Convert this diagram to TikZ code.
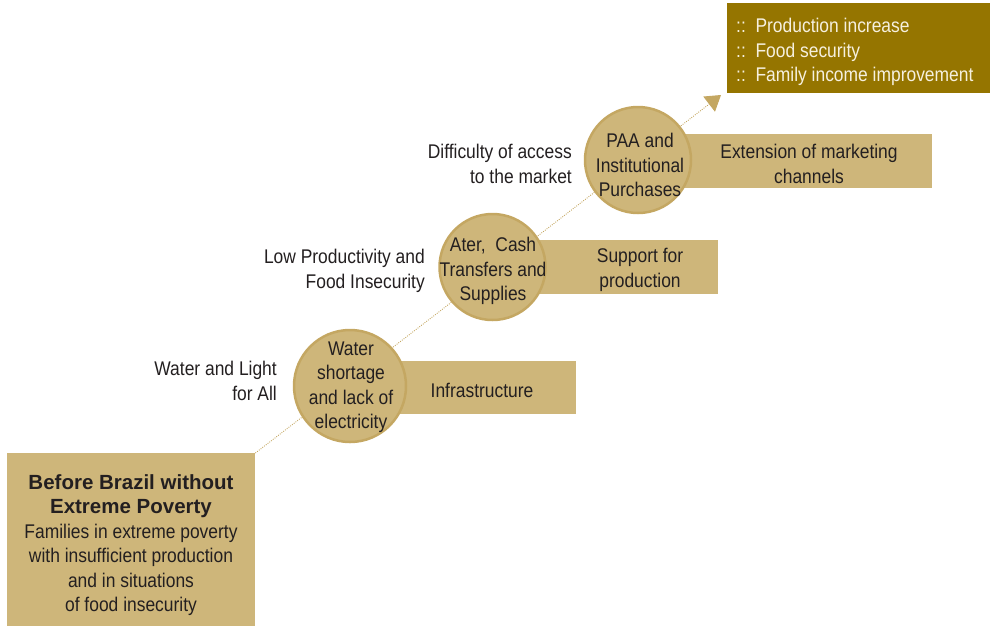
\documentclass[tikz,border=0pt]{standalone}
\usepackage{fontspec}
\setmainfont[FakeStretch=0.88]{Liberation Sans}
\newfontfamily\titlefont[FakeStretch=1.0]{Liberation Sans}
\usetikzlibrary{arrows.meta}
\definecolor{tan}{HTML}{CEB67A}
\definecolor{tanedge}{HTML}{C4A762}
\definecolor{olive}{HTML}{957500}
\definecolor{ink}{HTML}{231F20}
\definecolor{cream}{HTML}{F6F0DF}
\tikzset{
  txt/.style={font=\fontsize{19.8}{24.5}\selectfont, text=ink, align=center, inner sep=0},
  lbl/.style={txt, align=right, anchor=east},
  bar/.style={fill=tan, draw=none, anchor=north west, inner sep=0},
  disc/.style={circle, fill=tan, draw=tanedge, line width=2.5pt, inner sep=0},
  dotline/.style={tanedge, line width=0.9pt, dash pattern=on 0.9pt off 1.3pt}
}
\begin{document}
\begin{tikzpicture}[x=1pt,y=-1pt]
\useasboundingbox (0,0) rectangle (990,625);
% base box
\node[fill=tan, anchor=north west, minimum width=248pt, minimum height=175pt, inner sep=0] (base) at (7,453) {};
\node[txt] (basetext) at (131,545) {{\titlefont\bfseries\fontsize{20.5}{24.5}\selectfont Before Brazil without}\\{\titlefont\bfseries\fontsize{20.5}{24.5}\selectfont Extreme Poverty}\\Families in extreme poverty\\with insufficient production\\and in situations\\of food insecurity};
% dotted arrow
\coordinate (tip) at (721,95);
\draw[dotline, -{Triangle[length=15pt,width=19pt,fill=tanedge]}] (base.north east) -- (tip);
% bars
\node[bar, minimum width=186pt, minimum height=53pt] (bar1) at (390,361) {};
\node[bar, minimum width=188pt, minimum height=54pt] (bar2) at (530,240) {};
\node[bar, minimum width=252pt, minimum height=54pt] (bar3) at (680,134) {};
% circles
\node[disc, minimum size=112pt] (c1) at (350,386) {};
\node[disc, minimum size=106pt] (c2) at (492.5,267) {};
\node[disc, minimum size=106pt] (c3) at (638,160) {};
% circle texts
\node[txt] (c1t) at (351,387) {Water\\shortage\\and lack of\\electricity};
\node[txt] (c2t) at (493,271) {Ater,\ \ Cash\\Transfers and\\Supplies};
\node[txt] (c3t) at (640,165) {PAA and\\Institutional\\Purchases};
% bar texts
\node[txt] (b1t) at (482,390) {Infrastructure};
\node[txt] (b2t) at (640,270) {Support for\\production};
\node[txt] (b3t) at (809,164) {Extension of marketing\\channels};
% side labels
\node[lbl] (l1) at (277,381) {Water and Light\\for All};
\node[lbl] (l2) at (425,271) {Low Productivity and\\Food Insecurity};
\node[lbl] (l3) at (572,164) {Difficulty of access\\to the market};
% result box
\node[fill=olive, anchor=north west, minimum width=263pt, minimum height=90pt, inner sep=0] (result) at (727,3) {};
\node[txt, text=cream, align=left, anchor=west] (resulttext) at (736,52) {::\ \ Production increase\\::\ \ Food security\\::\ \ Family income improvement};
\end{tikzpicture}
\end{document}
